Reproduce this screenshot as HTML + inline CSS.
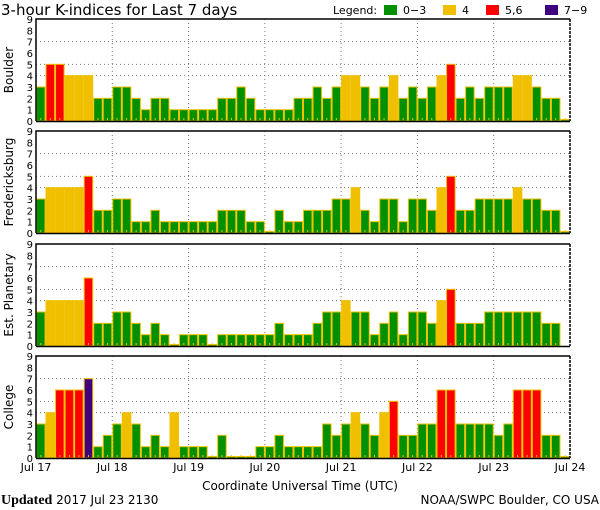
<!DOCTYPE html>
<html><head><meta charset="utf-8"><style>
html,body{margin:0;padding:0;background:#fff;}
svg{display:block;font-family:"DejaVu Sans","Liberation Sans",sans-serif;}
</style></head><body>
<svg id="chart" width="600" height="510" viewBox="0 0 600 510">
<text x="1" y="15" font-size="15" fill="#000">3-hour K-indices for Last 7 days</text>
<g font-size="11">
<text x="333" y="14">Legend:</text>
<rect x="384" y="5" width="13" height="10" fill="#009000"/>
<text x="403" y="14">0−3</text>
<rect x="443" y="5" width="13" height="10" fill="#f0c000"/>
<text x="462" y="14">4</text>
<rect x="486" y="5" width="13" height="10" fill="#ff0000"/>
<text x="505" y="14">5,6</text>
<rect x="545" y="5" width="13" height="10" fill="#400080"/>
<text x="564" y="14">7−9</text>
</g>
<text x="300" y="490" font-size="12" text-anchor="middle">Coordinate Universal Time (UTC)</text>
<text x="1" y="504" font-size="12"><tspan font-family="Liberation Serif, serif" font-weight="bold" font-size="14">Updated</tspan> 2017 Jul 23 2130</text>
<text x="599" y="504" font-size="12" text-anchor="end">NOAA/SWPC Boulder, CO USA</text>
</svg>
<script>
const stations = ["Boulder","Fredericksburg","Est. Planetary","College"];
const boulder = [3,5,5,4,4,4,2,2,3,3,2,1,2,2,1,1,1,1,1,2,2,3,2,1,1,1,1,2,2,3,2,3,4,4,3,2,3,4,2,3,2,3,4,5,2,3,2,3,3,3,4,4,3,2,2,0];
const fredericksburg = [3,4,4,4,4,5,2,2,3,3,1,1,2,1,1,1,1,1,1,2,2,2,1,1,0,2,1,1,2,2,2,3,3,4,2,1,3,3,1,3,3,2,4,5,2,2,3,3,3,3,4,3,3,2,2,0];
const planetary = [3,4,4,4,4,6,2,2,3,3,2,1,2,1,0,1,1,1,0,1,1,1,1,1,1,2,1,1,1,2,3,3,4,3,3,1,2,3,1,3,3,2,4,5,2,2,2,3,3,3,3,3,3,2,2,null];
const college = [3,4,6,6,6,7,1,2,3,4,3,1,2,1,4,1,1,1,0,2,0,0,0,1,1,2,1,1,1,1,3,2,3,4,3,2,4,5,2,2,3,3,6,6,3,3,3,3,2,3,6,6,6,2,2,0];
const dayLabels = ["Jul 17","Jul 18","Jul 19","Jul 20","Jul 21","Jul 22","Jul 23","Jul 24"];
const yTicks = [0,1,2,3,4,5,6,7,8,9];

const NS="http://www.w3.org/2000/svg";
const svg=document.getElementById('chart');
const series=[boulder,fredericksburg,planetary,college];
const panelTops=[19,131,244,356];
const X0=36, X1=570, PH=102, N=56;
const bw=(X1-X0)/N;
function xs(i){return X0+i*bw;}
function mk(t,a){const e=document.createElementNS(NS,t);for(const k in a)e.setAttribute(k,a[k]);return e;}
function col(v){return v<=3?"#009000":v==4?"#f0c000":v<=6?"#ff0000":"#400080";}

series.forEach((data,p)=>{
  const top=panelTops[p], bot=top+PH;
  const ys=v=>bot-v*PH/9;
  const g=mk('g',{});
  
  
  svg.appendChild(g);
  // grid
  [4,5,7].forEach(v=>{
    const l=mk('line',{x1:X0,x2:X1,y1:ys(v),y2:ys(v),stroke:'#777','stroke-dasharray':'1,3'});
    
    
    g.appendChild(l);
  });
  for(let d=1;d<7;d++){
    const l=mk('line',{x1:xs(d*8),x2:xs(d*8),y1:top,y2:bot,stroke:'#777','stroke-dasharray':'1,3'});
    
    
    g.appendChild(l);
  }
  data.forEach((v,i)=>{
    if(v===null)return;
    const h=Math.max(v*PH/9,1.5);
    const r=mk('rect',{x:xs(i)+0.5,y:bot-h,width:bw-1,height:h,fill:col(v),stroke:'#f0c000','stroke-width':1});
    
    
    g.appendChild(r);
    const t=mk('rect',{x:xs(i)+bw/2-0.5,y:bot-3,width:1,height:2,fill:'#f0c000'});
    
    
    g.appendChild(t);
  });
  const f=mk('path',{d:`M${X0},${bot}V${top}H${X1}`,fill:'none',stroke:'#000','stroke-width':1.5});
  
  
  g.appendChild(f);
  const rb=mk('line',{x1:X1,x2:X1,y1:top,y2:bot,stroke:'#000','stroke-width':1.5,'stroke-dasharray':'3,1'});
  
  
  g.appendChild(rb);
  const bl=mk('line',{x1:X0,x2:X1,y1:bot+0.5,y2:bot+0.5,stroke:'#000','stroke-width':1.5});
  
  
  g.appendChild(bl);
  yTicks.forEach(v=>{
    const t=mk('text',{x:33,y:ys(v)+4,'font-size':10,'text-anchor':'end'});
    t.textContent=v;
    
    
    g.appendChild(t);
  });
  const yl=mk('text',{x:0,y:0,'font-size':12,'text-anchor':'middle',transform:`translate(13,${top+PH/2}) rotate(-90)`});
  yl.textContent=stations[p];
  
  
  g.appendChild(yl);
});
dayLabels.forEach((d,k)=>{
  const t=mk('text',{x:xs(k*8),y:471,'font-size':11,'text-anchor':'middle'});
  t.textContent=d;
  
  
  svg.appendChild(t);
});
</script>
</body></html>
